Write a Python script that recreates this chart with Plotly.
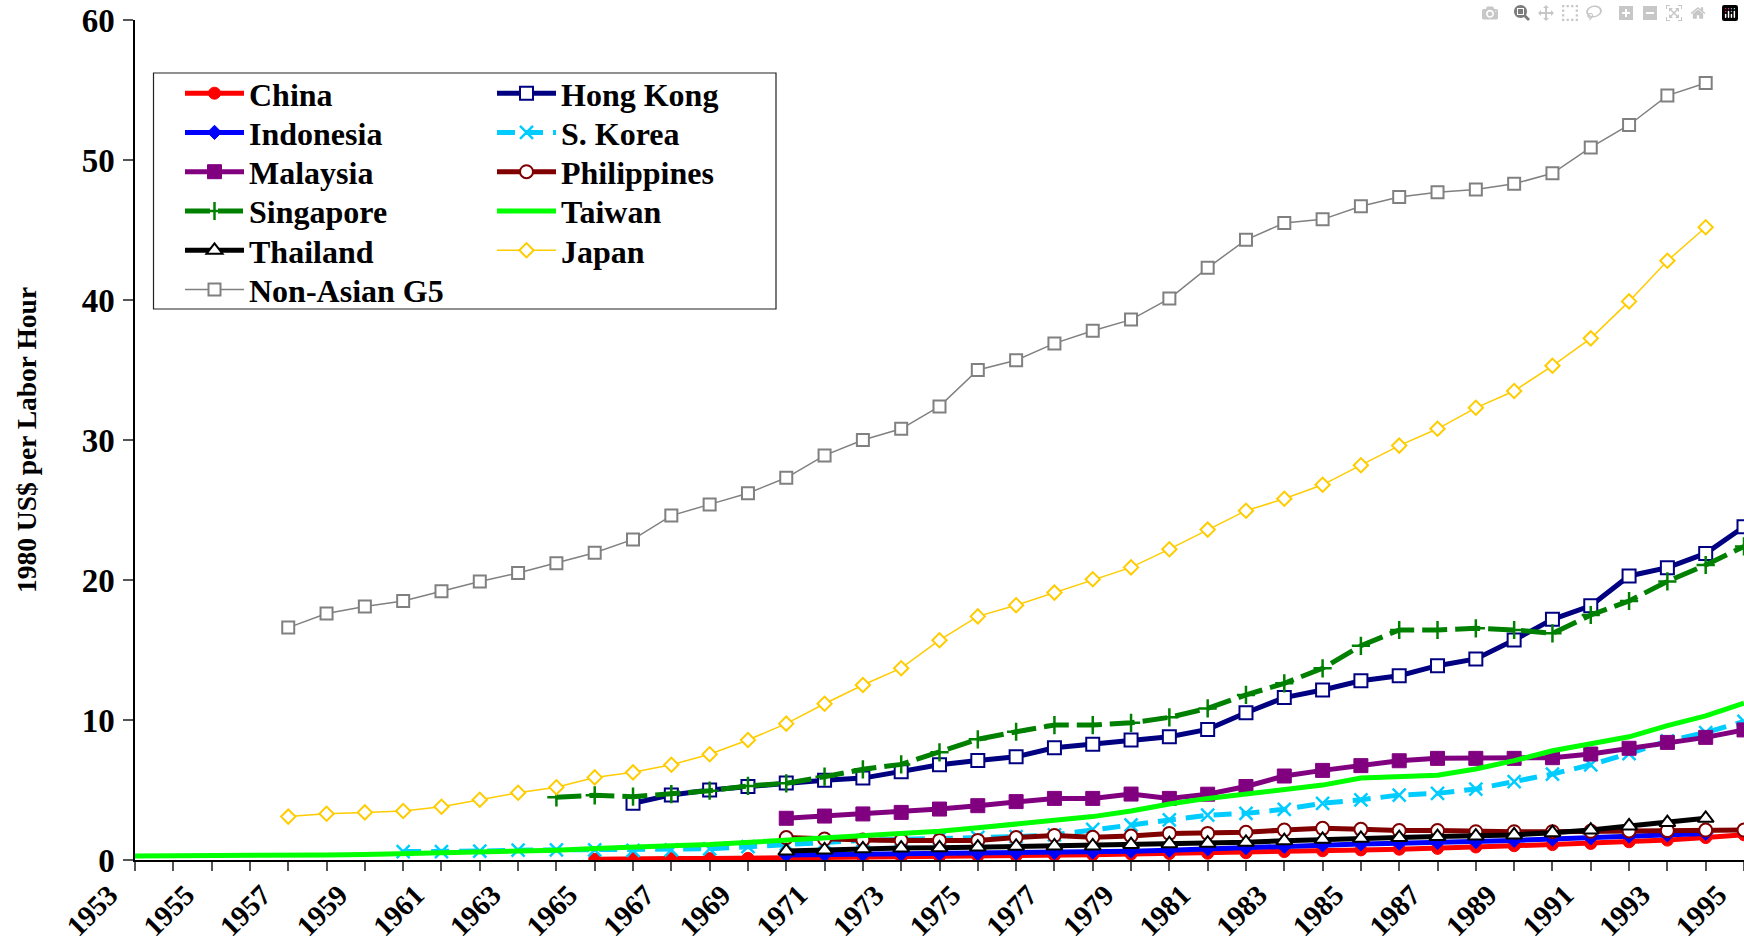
import plotly.graph_objects as go

FONT = "Liberation Serif, Times New Roman, serif"

years_all = list(range(1953, 1996))
tick_labels = [str(y) if (y - 1953) % 2 == 0 else "" for y in years_all]

china_years = list(range(1965, 1996))
china = [0.05, 0.1, 0.1, 0.1, 0.12, 0.15, 0.2, 0.22, 0.24, 0.26, 0.28, 0.3, 0.33, 0.37, 0.42, 0.46,
         0.48, 0.52, 0.6, 0.66, 0.72, 0.77, 0.83, 0.93, 1.02, 1.1, 1.18, 1.3, 1.42, 1.6, 1.8]

hk_years = list(range(1966, 1996))
hong_kong = [4.05, 4.65, 5.0, 5.25, 5.5, 5.7, 5.85, 6.3, 6.8, 7.1, 7.38, 8.02, 8.26, 8.57, 8.81,
             9.33, 10.52, 11.6, 12.14, 12.8, 13.16, 13.88, 14.36, 15.71, 17.19, 18.16, 20.29,
             20.88, 21.9, 23.8]

indonesia_years = list(range(1970, 1995))
indonesia = [0.35, 0.38, 0.4, 0.42, 0.44, 0.46, 0.5, 0.53, 0.57, 0.63, 0.7, 0.8, 0.88, 0.97,
             1.08, 1.15, 1.2, 1.25, 1.31, 1.4, 1.5, 1.58, 1.71, 1.8, 1.9]

korea_years = list(range(1960, 1996))
s_korea = [0.6, 0.6, 0.64, 0.7, 0.72, 0.72, 0.68, 0.72, 0.8, 0.95, 1.14, 1.25, 1.4, 1.45, 1.55,
           1.62, 1.67, 1.8, 2.19, 2.5, 2.86, 3.2, 3.33, 3.62, 4.05, 4.3, 4.64, 4.76, 5.07, 5.6,
           6.14, 6.8, 7.6, 8.5, 9.1, 9.9]

malaysia_years = list(range(1970, 1996))
malaysia = [2.98, 3.14, 3.29, 3.4, 3.64, 3.88, 4.17, 4.4, 4.4, 4.71, 4.4, 4.7, 5.25, 6.0, 6.4,
            6.74, 7.09, 7.26, 7.26, 7.26, 7.31, 7.57, 7.98, 8.4, 8.76, 9.29]

phil_years = list(range(1970, 1996))
philippines = [1.6, 1.5, 1.43, 1.4, 1.4, 1.4, 1.6, 1.75, 1.62, 1.71, 1.9, 1.9, 1.98, 2.14,
               2.26, 2.19, 2.1, 2.1, 2.02, 2.02, 2.02, 2.05, 2.08, 2.1, 2.14, 2.14]

sing_years = list(range(1964, 1996))
singapore = [4.48, 4.62, 4.52, 4.71, 4.95, 5.29, 5.48, 5.95, 6.48, 6.83, 7.69, 8.62, 9.16, 9.64,
             9.64, 9.8, 10.19, 10.83, 11.79, 12.62, 13.69, 15.3, 16.43, 16.43, 16.55, 16.43,
             16.19, 17.5, 18.5, 19.9, 21.07, 22.4]

taiwan_years = list(range(1953, 1996))
taiwan = [0.29, 0.29, 0.3, 0.31, 0.33, 0.36, 0.4, 0.45, 0.5, 0.55, 0.62, 0.7, 0.82, 0.95, 1.02,
          1.1, 1.25, 1.45, 1.6, 1.75, 1.9, 2.05, 2.3, 2.55, 2.8, 3.1, 3.5, 4.0, 4.4, 4.7, 5.0,
          5.35, 5.85, 5.95, 6.05, 6.5, 7.1, 7.8, 8.3, 8.8, 9.6, 10.3, 11.2]

thai_years = list(range(1970, 1995))
thailand = [0.64, 0.72, 0.8, 0.85, 0.87, 0.92, 0.98, 1.0, 1.0, 1.1, 1.16, 1.2, 1.26, 1.38,
            1.48, 1.55, 1.6, 1.67, 1.71, 1.79, 1.95, 2.14, 2.43, 2.67, 2.98]

japan_years = list(range(1957, 1995))
japan = [3.1, 3.3, 3.4, 3.5, 3.8, 4.3, 4.8, 5.2, 5.9, 6.26, 6.8, 7.55, 8.57, 9.74, 11.16, 12.5,
         13.7, 15.7, 17.4, 18.2, 19.1, 20.05, 20.9, 22.2, 23.6, 24.95, 25.8, 26.8, 28.2, 29.6,
         30.8, 32.3, 33.5, 35.3, 37.26, 39.9, 42.8, 45.2]

g5_years = list(range(1957, 1995))
g5 = [16.6, 17.6, 18.1, 18.5, 19.2, 19.9, 20.5, 21.2, 21.95, 22.9, 24.6, 25.4, 26.2, 27.3, 28.9,
      30.0, 30.8, 32.4, 35.0, 35.7, 36.9, 37.8, 38.6, 40.1, 42.3, 44.3, 45.5, 45.76, 46.7, 47.36,
      47.7, 47.9, 48.3, 49.05, 50.9, 52.5, 54.6, 55.5]

W, H = 1744, 944
ML, MR, MT, MB = 135, 0, 20, 84
PW = W - ML - MR
PH = H - MT - MB


def px(x):
    return (x - ML) / PW


def py(y):
    return (H - MB - y) / PH


fig = go.Figure()
legend_layouts = {}
legend_font = dict(family=FONT, size=32, color="black", weight="bold")
col_x = [180, 492]
row_y = [93.4, 132.6, 171.9, 211.2, 250.5, 289.8]
count = [0]


def add(name, xs, ys, color, width, dash, symbol, size, mcolor, mline, mlw):
    i = count[0]
    count[0] += 1
    lid = "legend" if i == 0 else "legend%d" % (i + 1)
    legend_layouts[lid] = dict(orientation="v", x=px(col_x[i % 2]), y=py(row_y[i // 2]),
                               xanchor="left", yanchor="middle", bgcolor="rgba(0,0,0,0)",
                               borderwidth=0, font=legend_font, itemwidth=59)
    marker = None
    mode = "lines"
    if symbol is not None:
        mode = "lines+markers"
        marker = dict(symbol=symbol, size=size, color=mcolor,
                      line=dict(color=mline, width=mlw))
    fig.add_trace(go.Scatter(x=xs, y=ys, name=name, mode=mode, showlegend=True,
                             line=dict(color=color, width=width, dash=dash),
                             marker=marker, legend=lid))


add("China", china_years, china, "#FF0000", 5, "solid", "circle", 12, "#FF0000", "#FF0000", 1)
add("Hong Kong", hk_years, hong_kong, "#000080", 5, "solid", "square", 13, "white", "#000080", 2)
add("Indonesia", indonesia_years, indonesia, "#0000FF", 5, "solid", "diamond", 11, "#0000FF", "#0000FF", 1)
add("S. Korea", korea_years, s_korea, "#00CCFF", 5, "18px,10px", "x-thin-open", 13, "#00CCFF", "#00CCFF", 2.5)
add("Malaysia", malaysia_years, malaysia, "#800080", 5, "solid", "square", 14, "#800080", "#800080", 1)
add("Philippines", phil_years, philippines, "#800000", 5, "solid", "circle", 13, "white", "#800000", 2)
add("Singapore", sing_years, singapore, "#008000", 5, "25px,8px", "cross-thin-open", 13, "#008000", "#008000", 2.5)
add("Taiwan", taiwan_years, taiwan, "#00FF00", 5, "solid", None, 0, None, None, 0)
add("Thailand", thai_years, thailand, "#000000", 5, "solid", "triangle-up", 14, "white", "#000000", 2)
add("Japan", japan_years, japan, "#FFCC00", 1.5, "solid", "diamond", 11, "white", "#FFCC00", 2)
add("Non-Asian G5", g5_years, g5, "#808080", 1.5, "solid", "square", 12, "white", "#808080", 2)

NB = "\u00a0" * 5
xtick_text = [t + NB if t else "" for t in tick_labels]

fig.update_layout(
    width=W, height=H, showlegend=True,
    margin=dict(l=ML, r=MR, t=MT, b=MB, pad=0, autoexpand=False),
    paper_bgcolor="white", plot_bgcolor="white",
    font=dict(family=FONT, color="black"),
    xaxis=dict(range=[1953, 1995], tickvals=years_all, ticktext=xtick_text, tickangle=-45,
               ticks="outside", ticklen=9, tickcolor="#555", tickwidth=1.5,
               ticklabelstandoff=-30, ticklabeloverflow="allow", automargin=False,
               showline=True, linecolor="black", linewidth=1.5, showgrid=False, zeroline=False,
               tickfont=dict(family=FONT, size=29, color="black", weight="bold")),
    yaxis=dict(range=[0, 60], dtick=10, ticks="outside", ticklen=10, tickcolor="#555",
               tickwidth=1.5, ticklabelstandoff=2, automargin=False,
               showline=True, linecolor="black", linewidth=1.5, showgrid=False, zeroline=False,
               tickfont=dict(family=FONT, size=33, color="black", weight="bold")),
    yaxis2=dict(range=[0, 60], dtick=10, overlaying="y", side="left", ticks="inside", ticklen=9,
                tickcolor="#555", tickwidth=1.5, showticklabels=False, showline=False,
                showgrid=False, zeroline=False, automargin=False),
    shapes=[dict(type="rect", xref="paper", yref="paper", x0=px(153.5), x1=px(776),
                 y0=py(309), y1=py(73), line=dict(color="#222", width=1.2),
                 fillcolor="white", layer="below")],
    annotations=[dict(text="1980 US$ per Labor Hour", textangle=-90, xref="paper", yref="paper",
                      x=px(26), y=0.5, xanchor="center", yanchor="middle", showarrow=False,
                      font=dict(family=FONT, size=27.5, color="black", weight="bold"))],
    **legend_layouts,
)

fig.write_html("out.html", post_script="document.body.style.margin='0';")
